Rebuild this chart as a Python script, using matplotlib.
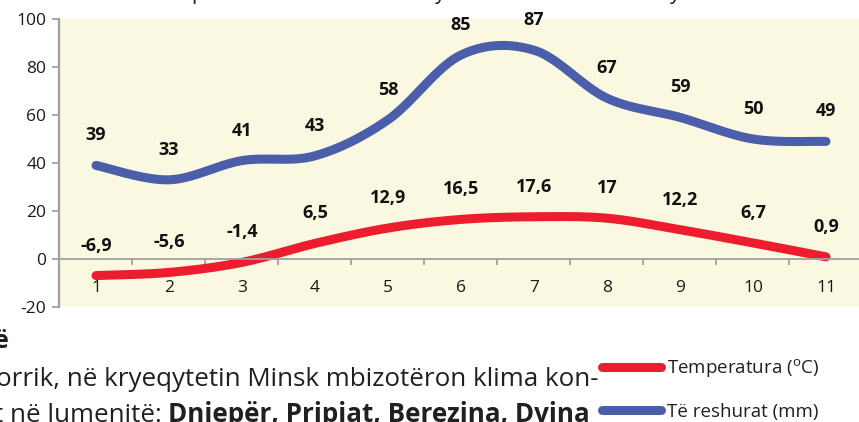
import numpy as np
import matplotlib
matplotlib.use("Agg")
import matplotlib.pyplot as plt

plt.rcParams['font.family'] = ['Open Sans', 'DejaVu Sans']
plt.rcParams['axes.unicode_minus'] = False
plt.rcParams['mathtext.fontset'] = 'custom'
plt.rcParams['mathtext.rm'] = 'Open Sans'

# monthly data, Minsk
muajt = [1, 2, 3, 4, 5, 6, 7, 8, 9, 10, 11]
reshjet = [39, 33, 41, 43, 58, 85, 87, 67, 59, 50, 49]
temperatura = [-6.9, -5.6, -1.4, 6.5, 12.9, 16.5, 17.6, 17, 12.2, 6.7, 0.9]
y_ticks = [-20, 0, 20, 40, 60, 80, 100]

BLUE = '#4a5ea9'
RED = '#ed1c2e'
GRAY = '#9da0a4'
INK = '#231f20'


def smooth(xs, ys, n=40):
    # Bezier smoothing through every point (spreadsheet "smoothed line")
    pts = np.column_stack([xs, ys]).astype(float)
    pad = np.vstack([pts[0], pts, pts[-1]])
    t = np.linspace(0, 1, n)[:, None]
    out = []
    for i in range(len(pts) - 1):
        p0, p1, p2, p3 = pad[i], pad[i + 1], pad[i + 2], pad[i + 3]
        c1 = p1 + (p2 - p0) / 6
        c2 = p2 - (p3 - p1) / 6
        seg = (1 - t) ** 3 * p1 + 3 * (1 - t) ** 2 * t * c1 + 3 * (1 - t) * t ** 2 * c2 + t ** 3 * p2
        out.append(seg if i == 0 else seg[1:])
    out = np.vstack(out)
    return out[:, 0], out[:, 1]


W, H = 859, 422
fig = plt.figure(figsize=(W / 100, H / 100), dpi=100)
ax = fig.add_axes([59.5 / W, 1 - 307 / H, 803 / W, 288 / H])
ax.set_facecolor('#fbf8e1')
ax.set_xlim(0.5, 11.5)
ax.set_ylim(-20, 100)

x_r, y_r = smooth(muajt, reshjet)
x_t, y_t = smooth(muajt, temperatura)
l_t, = ax.plot(x_t, y_t, color=RED, lw=6.5, solid_capstyle='round', clip_on=False)
l_r, = ax.plot(x_r, y_r, color=BLUE, lw=6.5, solid_capstyle='round', clip_on=False)

for x, v in zip(muajt, reshjet):
    ax.annotate(str(v), (x, v), xytext=(0, 21.6), textcoords='offset points',
                ha='center', va='center', fontsize=13, fontweight='bold', color='#111111')
for x, v in zip(muajt, temperatura):
    ax.annotate(f"{v:g}".replace('.', ','), (x, v), xytext=(0, 21.6), textcoords='offset points',
                ha='center', va='center', fontsize=13, fontweight='bold', color='#111111')

# axes styling
for s in ['top', 'right']:
    ax.spines[s].set_visible(False)
ax.spines['left'].set_color(GRAY)
ax.spines['left'].set_linewidth(1.6)
ax.spines['bottom'].set_position(('data', 0))
ax.spines['bottom'].set_color(GRAY)
ax.spines['bottom'].set_linewidth(1.3)

ax.set_yticks(y_ticks)
ax.tick_params(axis='y', direction='out', length=5, width=1.3, color=GRAY,
               labelsize=12.5, labelcolor='#1a1a1a', pad=4.5)
ax.set_xticks(np.arange(1.5, 11, 1))
ax.set_xticklabels([])
ax.set_xticks(muajt, minor=True)
ax.set_xticklabels([str(m) for m in muajt], minor=True)
ax.tick_params(axis='x', which='major', direction='out', length=4, width=1.3, color=GRAY)
ax.tick_params(axis='x', which='minor', length=0, labelsize=12.5, labelcolor='#1a1a1a', pad=15)

# legend
fig.legend([l_t, l_r], ['Temperatura ($^{\\mathrm{o}}$C)', 'Të reshurat (mm)'],
           loc='upper left', bbox_to_anchor=(602 / W, 1 - 357 / H), frameon=False,
           fontsize=13.5, handlelength=3.15, handletextpad=0.32, labelspacing=1.22,
           borderpad=0, borderaxespad=0, labelcolor=INK)

# surrounding page text
fig.text(-6 / W, 1 - 348 / H, 'ë', fontsize=18, fontweight='bold', color=INK, va='baseline')
fig.text(-4 / W, 1 - 386 / H, 'orrik, në kryeqytetin Minsk mbizotëron klima kon-',
         fontsize=18.7, color=INK, va='baseline')
t1 = fig.text(-6 / W, 1 - 422 / H, 't në lumenitë: ', fontsize=18.7, color=INK, va='baseline')
ax.annotate('Dniepër, Pripiat, Berezina, Dvina', xy=(1, 0), xycoords=t1,
            va='bottom', ha='left', fontsize=18.7, fontweight='bold', color=INK,
            annotation_clip=False)
for xp, ch in [(198, 'p'), (440, 'y'), (675, 'y')]:
    fig.text(xp / W, 1 + 1 / H, ch, fontsize=15, color=INK, ha='center', va='baseline')

fig.savefig('out.png', dpi=100)
